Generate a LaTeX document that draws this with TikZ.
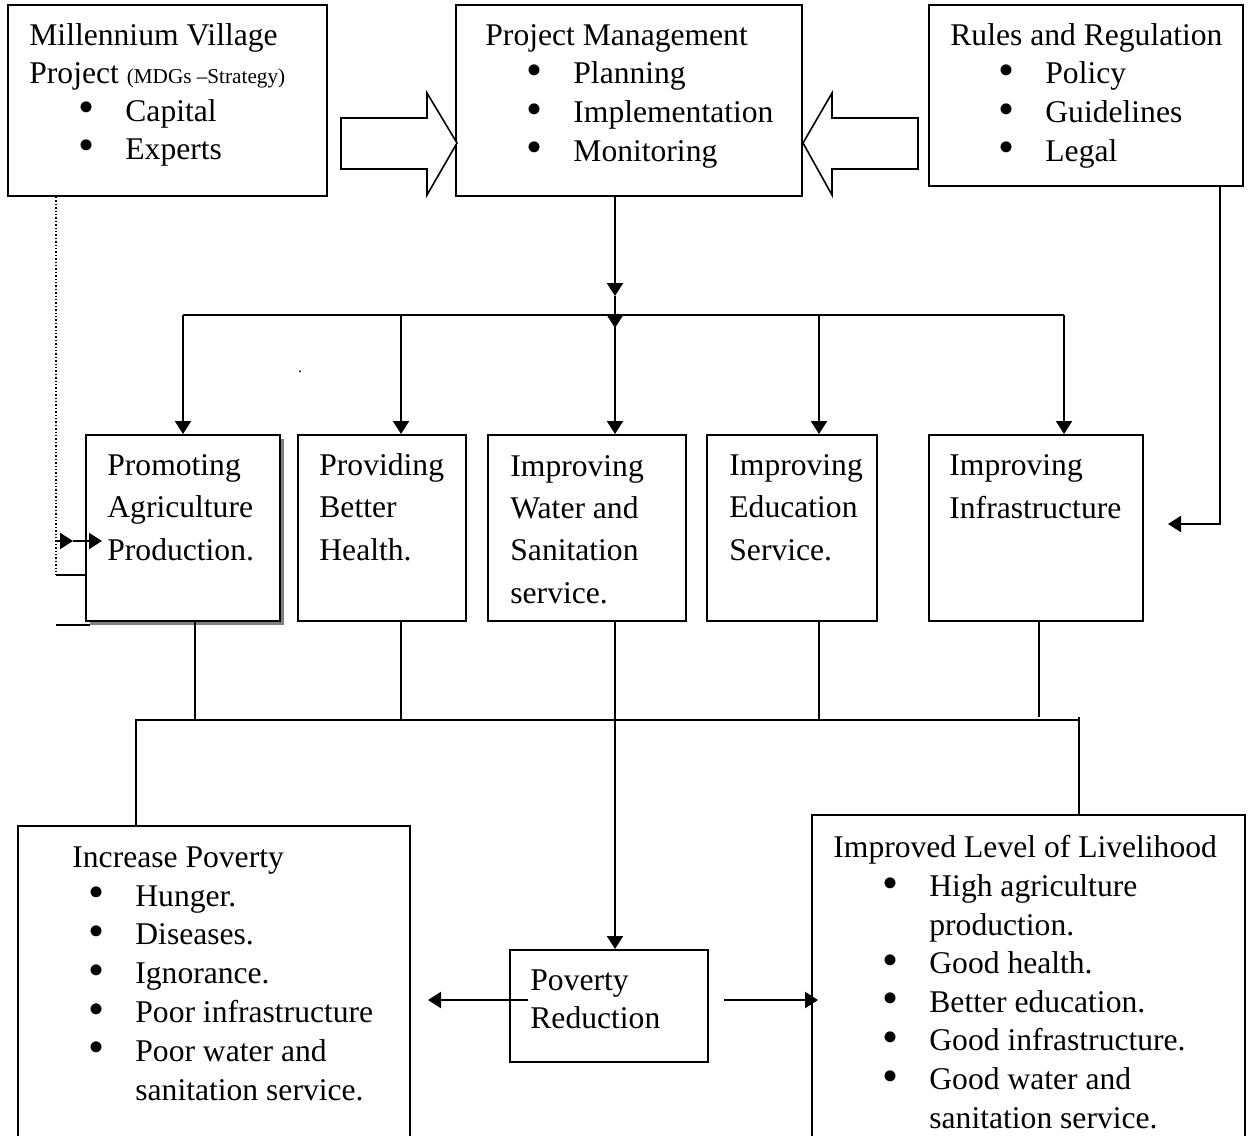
\documentclass[tikz,border=0pt]{standalone}
\usepackage{fontspec}
\usepackage{graphicx}
\setmainfont{Liberation Serif}
\usetikzlibrary{arrows.meta,shadows,fit}
\newcommand{\itm}{\makebox[23.5pt][l]{\raisebox{-0.8pt}{\scalebox{1.45}{\textbullet}}}}
\newcommand{\smallfnt}{\fontsize{10.6}{12}\selectfont}
\begin{document}
\begin{tikzpicture}[x=0.5pt,y=-0.5pt,
  box/.style={draw,line width=1pt,inner sep=0pt,fill=white},
  txt/.style={anchor=base west,align=left,inner sep=0pt,font=\fontsize{15.8}{19.3}\selectfont},
  midtxt/.style={txt,font=\fontsize{15.8}{21.1}\selectfont},
  arr/.style={-{Triangle[length=6.5pt,width=8pt]},line width=1.1pt},
  link/.style={line width=1pt},
  bigarrow/.style={draw,line width=0.8pt,fill=white}]
\useasboundingbox (0,0) rectangle (1251,1135);
% top row (text nodes are placed at the baseline of their last line)
\node[box,fit={(8,5)(327,196)}] (mvp) {};
\node[box,fit={(456,5)(802,196)}] (pm) {};
\node[box,fit={(929,5)(1243,186)}] (rules) {};
\node[txt,font=\fontsize{15.8}{19}\selectfont] (mvp-t) at (29,159) {Millennium Village\\Project {\smallfnt (MDGs --Strategy)}\\
  \hspace*{24.5pt}\itm Capital\\\hspace*{24.5pt}\itm Experts};
\node[txt] (pm-t) at (485,161) {Project Management\\\hspace*{20.5pt}\itm Planning\\
  \hspace*{20.5pt}\itm Implementation\\\hspace*{20.5pt}\itm Monitoring};
\node[txt] (rules-t) at (950,161) {Rules and Regulation\\\hspace*{24pt}\itm Policy\\
  \hspace*{24pt}\itm Guidelines\\\hspace*{24pt}\itm Legal};
\draw[bigarrow] (341,118) -- (427,118) -- (427,93) -- (457,143) -- (427,195) -- (427,169) -- (341,169) -- cycle;
\draw[bigarrow] (918,118) -- (832,118) -- (832,93) -- (803,143) -- (832,195) -- (832,169) -- (918,169) -- cycle;
% middle row
\node[box,fit={(86,435)(280,621)},drop shadow={shadow xshift=2pt,shadow yshift=-2pt,fill=gray,opacity=1}] (agri) {};
\node[box,fit={(298,435)(466,621)}] (health) {};
\node[box,fit={(488,435)(686,621)}] (water) {};
\node[box,fit={(707,435)(877,621)}] (edu) {};
\node[box,fit={(929,435)(1143,621)}] (infra) {};
\node[midtxt] (agri-t) at (107,560) {Promoting\\Agriculture\\Production.};
\node[midtxt] (health-t) at (319,560) {Providing\\Better\\Health.};
\node[midtxt] (water-t) at (510,603) {Improving\\Water and\\Sanitation\\service.};
\node[midtxt] (edu-t) at (729,560) {Improving\\Education\\Service.};
\node[midtxt] (infra-t) at (949,518) {Improving\\Infrastructure};
\node[inner sep=0pt] (dot) at (300,372) {\fontsize{8}{9}\selectfont .};
% bottom row
\node[box,fit={(18,826)(410,1150)}] (incpov) {};
\node[box,fit={(812,815)(1245,1150)}] (livel) {};
\node[box,fit={(510,950)(708,1062)}] (povred) {};
\node[txt,font=\fontsize{15.8}{19.4}\selectfont] (incpov-t) at (72,1100) {Increase Poverty\\\hspace*{8pt}\itm Hunger.\\
  \hspace*{8pt}\itm Diseases.\\\hspace*{8pt}\itm Ignorance.\\
  \hspace*{8pt}\itm Poor infrastructure\\\hspace*{8pt}\itm Poor water and\\
  \hspace*{31.5pt}sanitation service.};
\node[txt,font=\fontsize{15.8}{19.3}\selectfont] (livel-t) at (833,1128) {Improved Level of Livelihood\\
  \hspace*{24.5pt}\itm High agriculture\\\hspace*{48pt}production.\\
  \hspace*{24.5pt}\itm Good health.\\\hspace*{24.5pt}\itm Better education.\\
  \hspace*{24.5pt}\itm Good infrastructure.\\\hspace*{24.5pt}\itm Good water and\\
  \hspace*{48pt}sanitation service.};
\node[txt,font=\fontsize{15.8}{19}\selectfont] (povred-t) at (530,1028) {Poverty\\Reduction};
% connectors
\coordinate (pmA) at (615,296);
\coordinate (pmB) at (615,328);
\draw[arr] (pmA |- pm.south) -- (pmA);
\draw[arr] (pmA) -- (pmB);
\draw[link] (183,315) coordinate (busL) -- (1064,315) coordinate (busR);
\foreach \x/\n in {183/agri,401/health,615/water,819/edu,1064/infra}{
  \coordinate (top-\n) at (\x,315);
  \draw[arr] (top-\n) -- (top-\n |- \n.north);
}
\foreach \x/\n in {195/agri,401/health,819/edu}{
  \coordinate (bot-\n) at (\x,720);
  \draw[link] (bot-\n |- \n.south) -- (bot-\n);
}
\coordinate (bot-infra) at (1039,717);
\draw[link] (bot-infra |- infra.south) -- (bot-infra);
\coordinate (busBL) at (136,720);
\coordinate (busBR) at (1079,720);
\draw[link] (busBL |- incpov.north) -- (busBL) -- (busBR) -- ++(0,-3);
\draw[link] (busBR) -- (busBR |- livel.north);
\coordinate (bot-water) at (615,720);
\draw[arr] (bot-water |- water.south) -- (bot-water |- povred.north);
\coordinate (prL) at (528,1000);
\coordinate (ipTip) at (428,1000);
\coordinate (prR) at (724,1000);
\coordinate (llTip) at (818,1000);
\draw[arr] (prL) -- (ipTip);
\draw[arr] (prR) -- (llTip);
\coordinate (rcA) at (1220,524);
\coordinate (infTip) at (1168,524);
\draw[arr] (rcA |- rules.south) -- (rcA) -- (infTip);
% left side feed
\coordinate (dl1) at (56,541);
\coordinate (dl2) at (56,575);
\coordinate (dl3) at (56,625);
\coordinate (dlM) at (73,541);
\draw[densely dotted,line width=0.7pt] (dl1 |- mvp.south) -- (dl2);
\draw[arr] (dl1) -- (dlM);
\draw[arr] (dlM) -- (102,541);
\draw[link] (dl2) -- (dl2 -| agri.west);
\draw[link] (dl3) -- ++(34,0);
\end{tikzpicture}
\end{document}
